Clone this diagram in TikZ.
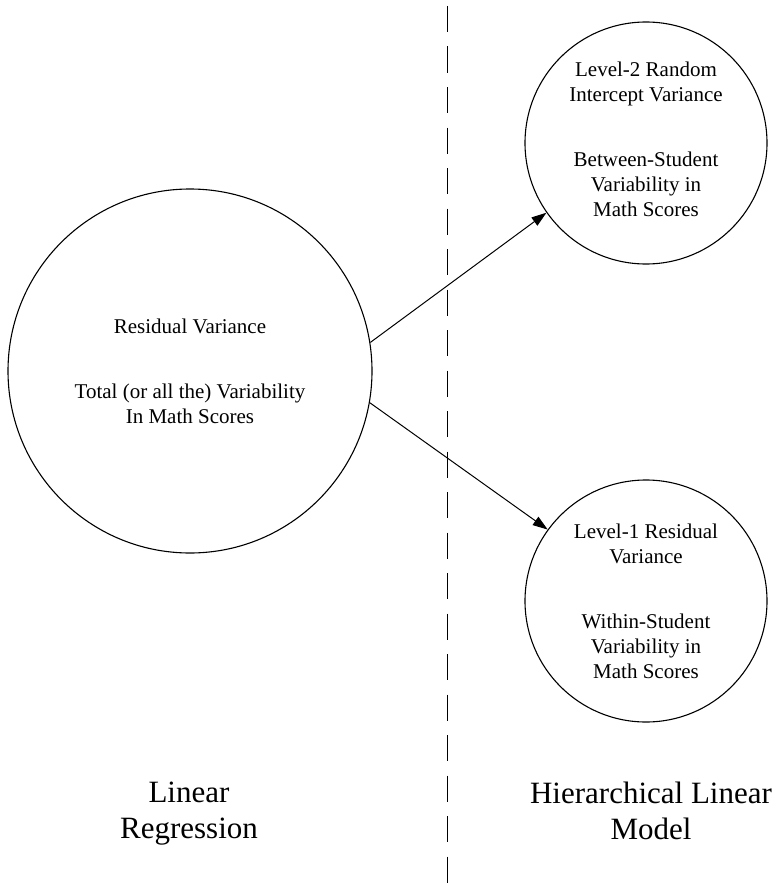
\documentclass[tikz,border=0pt]{standalone}
\usepackage{fontspec}
\setmainfont{Liberation Serif}
\usetikzlibrary{arrows.meta}
\begin{document}
\begin{tikzpicture}[x=1pt,y=1pt,
  bubble/.style={circle,draw,line width=1.1pt,inner sep=0pt,align=center,
    font=\fontsize{21}{25}\selectfont},
  conn/.style={line width=1pt,-{Triangle[length=15pt,width=10pt]}},
  divider/.style={line width=1.3pt,dash pattern=on 26pt off 14.5pt},
  biglabel/.style={align=center,anchor=north,inner sep=0pt,
    font=\fontsize{31}{36}\selectfont}]
\useasboundingbox (0,0) rectangle (779,-883);
\node[bubble,minimum size=364pt] (lr) at (190,-371)
  {Residual Variance\\[40pt]Total (or all the) Variability\\In Math Scores};
\node[bubble,minimum size=242pt] (l2) at (646,-143)
  {Level-2 Random\\Intercept Variance\\[40pt]Between-Student\\Variability in\\Math Scores\rule[-8pt]{0pt}{8pt}};
\node[bubble,minimum size=242pt] (l1) at (646,-601)
  {Level-1 Residual\\Variance\\[40pt]Within-Student\\Variability in\\Math Scores};
\coordinate (dtop) at (447.5,-6);
\coordinate (dbot) at (447.5,-883);
\draw[divider] (dtop) -- (dbot);
\draw[conn] (lr.9.5) -- (l2.215.3);
\draw[conn] (lr.-10.4) -- (l1.144.4);
\node[biglabel] (lab1) at (189,-782) {Linear\\Regression};
\node[biglabel] (lab2) at (651,-782) {Hierarchical Linear\\Model};
\end{tikzpicture}
\end{document}
